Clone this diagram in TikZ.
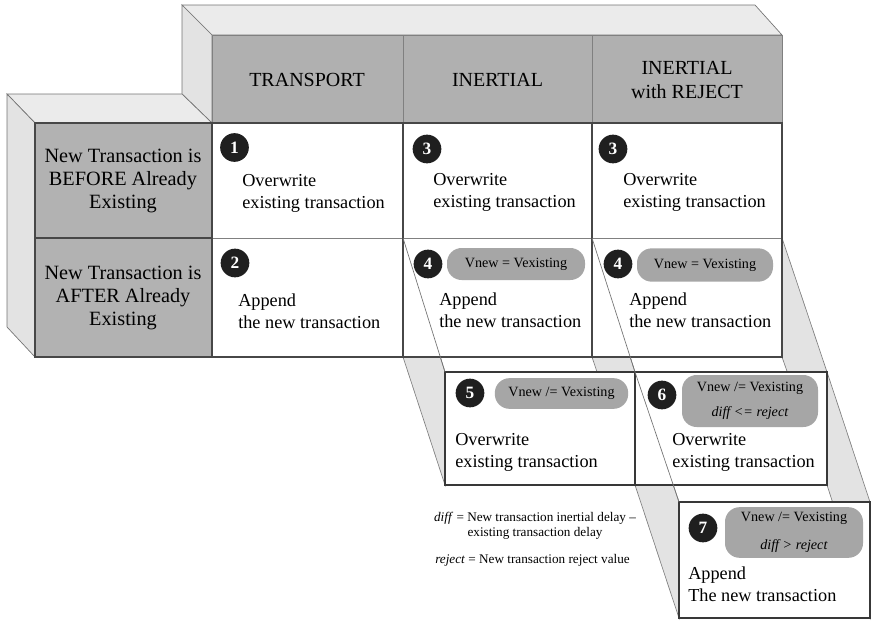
\documentclass[tikz,border=0pt]{standalone}
\usepackage{fontspec}
\setmainfont{Liberation Serif}
\usetikzlibrary{positioning}

\begin{document}
\begin{tikzpicture}[x=0.75pt,y=-0.75pt,
  every node/.style={inner sep=0pt},
  body/.style={align=left,anchor=west,font=\fontsize{13.7}{16.5}\selectfont},
  rowhead/.style={align=center,font=\fontsize{15.2}{17.3}\selectfont},
  colhead/.style={align=center,font=\fontsize{15}{18}\selectfont},
  num/.style={circle,fill=black!88,text=white,minimum size=21.5pt,font=\bfseries\fontsize{13}{13}\selectfont},
  pill/.style={fill=black!35,rounded corners=11pt,align=center,font=\fontsize{10.6}{13}\selectfont},
  topface/.style={fill=black!8,draw=black!55,line width=0.5pt},
  sideface/.style={fill=black!11,draw=black!55,line width=0.5pt},
  shaft/.style={fill=black!11,draw=black!50,line width=0.5pt},
  rim/.style={draw=black!55,line width=0.5pt},
  grid/.style={draw=black!72,line width=0.8pt},
  thingrid/.style={draw=black!50,line width=0.5pt},
  box/.style={fill=white,draw=black!78,line width=1pt},
  legend/.style={font=\fontsize{9.9}{11.5}\selectfont}
]
  \useasboundingbox (0,0) rectangle (871,621);

  % back faces of the two blocks
  \draw[topface]  (182,5) -- (755,5) -- (782,35) -- (212,35) -- cycle;
  \draw[sideface] (182,5) -- (212,35) -- (212,123) -- (182,94) -- cycle;
  \draw[topface]  (7,94) -- (182,94) -- (212,123) -- (35,123) -- cycle;
  \draw[sideface] (7,94) -- (35,123) -- (35,357) -- (7,327) -- cycle;

  % shafts down to the lower boxes
  \draw[shaft] (403,238) -- (445,372) -- (445,485) -- (403,357) -- cycle;
  \draw[shaft] (592,238) -- (635,372) -- (635,485) -- (592,357) -- cycle;
  \draw[shaft] (782,238) -- (827,372) -- (827,485) -- (782,357) -- cycle;
  \draw[shaft] (635,372) -- (679,502) -- (679,618) -- (635,485) -- cycle;
  \draw[shaft] (827,372) -- (870,502) -- (870,618) -- (827,485) -- cycle;

  % table
  \fill[black!31] (212,35) rectangle (782,123);
  \fill[black!30] (35,123) rectangle (212,357);
  \fill[white] (212,123) rectangle (782,357);
  \draw[thingrid] (212,35) rectangle (782,123);
  \foreach \x in {403,592} \draw[thingrid] (\x,35) -- (\x,123);
  \draw[thingrid] (212,238) -- (782,238);
  \draw[grid] (35,123) rectangle (782,357);
  \draw[grid] (35,238) -- (212,238);
  \foreach \x in {212,403,592} \draw[grid] (\x,123) -- (\x,357);

  % lower boxes
  \draw[box] (445,372) rectangle (635,485);
  \draw[box] (635,372) rectangle (827,485);
  \draw[box] (679,502) rectangle (870,618);

  % shaft edges seen through
  \draw[rim] (403,238) -- (445,372);
  \draw[rim] (592,238) -- (635,372);
  \draw[rim] (635,372) -- (679,502);

  % headings
  \node[colhead] (hT) at (307,80) {TRANSPORT};
  \node[colhead] (hI) at (497.5,80) {INERTIAL};
  \node[colhead] (hR) at (687,80) {INERTIAL\\with REJECT};
  \node[rowhead] (rB) at (123,181) {New Transaction is\\BEFORE Already\\Existing};
  \node[rowhead] (rA) at (123,298) {New Transaction is\\AFTER Already\\Existing};

  % numbers
  \foreach \nm/\t/\x/\y in {n1/1/234.5/147.5, n2/2/235/263, n3a/3/427/149, n3b/3/613/149,
                            n4a/4/428/264, n4b/4/618/264, n5/5/470/393, n6/6/662/395, n7/7/703/528}
    \node[num] (\nm) at (\x,\y) {\t};

  % conditions
  \node[pill,minimum width=103.5pt,minimum height=24pt] (p4a) at (516,264) {Vnew = Vexisting};
  \node[pill,minimum width=102pt,minimum height=25pt] (p4b) at (705,265) {Vnew = Vexisting};
  \node[pill,minimum width=100pt,minimum height=23pt] (p5) at (561.5,393.5) {Vnew /= Vexisting};
  \node[pill,minimum width=102pt,minimum height=39pt] (p6) at (750,401) {Vnew /= Vexisting\\[6pt]\textit{diff <= reject}};
  \node[pill,minimum width=103.5pt,minimum height=38pt] (p7) at (794,532.5) {Vnew /= Vexisting\\[8pt]\textit{diff > reject}};

  % actions
  \node[body] (t11) at (242,193) {Overwrite\\existing transaction};
  \node[body] (t21) at (238,311) {Append\\the new transaction};
  \node[body] (t12) at (433,192.5) {Overwrite\\existing transaction};
  \node[body] (t13) at (623,192.5) {Overwrite\\existing transaction};
  \node[body] (t22) at (439,310) {Append\\the new transaction};
  \node[body] (t23) at (629,310) {Append\\the new transaction};
  \node[body] (t5) at (455,452) {Overwrite\\existing transaction};
  \node[body] (t6) at (672,452) {Overwrite\\existing transaction};
  \node[body] (t7) at (688,584) {Append\\The new transaction};

  % legend
  \node[legend,align=center] (lg1) at (535,525.5) {\textit{diff} = New transaction inertial delay --\\existing transaction delay};
  \node[legend,anchor=west] (lg2) at (435,560) {\textit{reject} = New transaction reject value};
\end{tikzpicture}
\end{document}
